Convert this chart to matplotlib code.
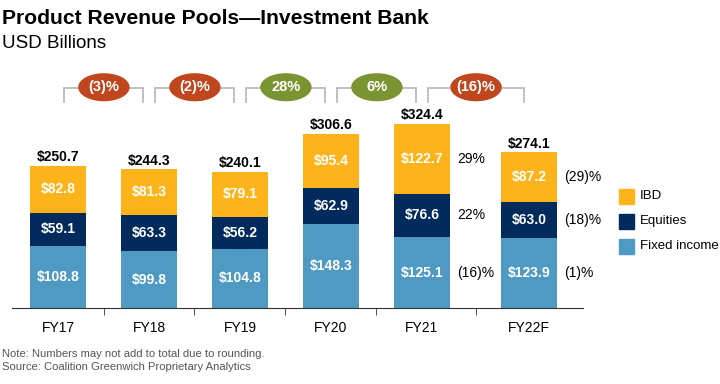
import matplotlib
matplotlib.use("Agg")
import matplotlib.pyplot as plt
from matplotlib.patches import Ellipse, Rectangle

plt.rcParams['font.family'] = ['Liberation Sans', 'DejaVu Sans']

years = ["FY17", "FY18", "FY19", "FY20", "FY21", "FY22F"]
fixed_income = [108.8, 99.8, 104.8, 148.3, 125.1, 123.9]
equities = [59.1, 63.3, 56.2, 62.9, 76.6, 63.0]
ibd = [82.8, 81.3, 79.1, 95.4, 122.7, 87.2]
totals = [250.7, 244.3, 240.1, 306.6, 324.4, 274.1]
yoy = ["(3)%", "(2)%", "28%", "6%", "(16)%"]
fy21_chg = ["(16)%", "22%", "29%"]     # fixed income, equities, IBD
fy22_chg = ["(1)%", "(18)%", "(29)%"]
legend_names = ["IBD", "Equities", "Fixed income"]

c_fi = "#4F9AC2"
c_eq = "#002B5C"
c_ibd = "#FDB31A"
c_neg = "#C0461E"
c_pos = "#7A9431"

xpos = [0, 1, 2, 3, 4, 5.18]
w = 0.615

fig = plt.figure(figsize=(7.2, 3.84), dpi=100)
ax = fig.add_axes([12 / 720, 76 / 384, 571 / 720, 248 / 384])
ax.set_xlim(-0.505, 5.77)
ax.set_ylim(0, 437)

ax.bar(xpos, fixed_income, w, color=c_fi)
ax.bar(xpos, equities, w, bottom=fixed_income, color=c_eq)
b2 = [a + b for a, b in zip(fixed_income, equities)]
ax.bar(xpos, ibd, w, bottom=b2, color=c_ibd)

for i, x in enumerate(xpos):
    segs = [(0, fixed_income[i]), (fixed_income[i], equities[i]), (b2[i], ibd[i])]
    for base, v in segs:
        ax.text(x, base + v / 2, f"${v:.1f}", ha="center", va="center",
                color="white", fontsize=10, fontweight="bold")
    ax.text(x, totals[i] + 3, f"${totals[i]:.1f}", ha="center", va="bottom",
            color="black", fontsize=10, fontweight="bold")

for i, chg in ((4, fy21_chg), (5, fy22_chg)):
    segs = [(0, fixed_income[i]), (fixed_income[i], equities[i]), (b2[i], ibd[i])]
    for (base, v), s in zip(segs, chg):
        ax.text(xpos[i] + w / 2 + 0.08, base + v / 2, s, ha="left", va="center",
                fontsize=10, color="black")

# brackets with yoy pills
for i, s in enumerate(yoy):
    x0 = xpos[i] + 0.07
    x1 = xpos[i + 1] - 0.06
    ax.plot([x0, x0, x1, x1], [363, 388, 388, 363], color="#BBBBBB", lw=1.3,
            clip_on=False, solid_joinstyle="miter")
    col = c_neg if s.startswith("(") else c_pos
    xm = (x0 + x1) / 2
    ax.add_patch(Ellipse((xm, 389), 0.55, 47, color=col, clip_on=False, zorder=3))
    ax.text(xm, 389, s, ha="center", va="center", color="white",
            fontsize=10.5, fontweight="bold", zorder=4)

for sp in ["top", "right", "left"]:
    ax.spines[sp].set_visible(False)
ax.spines["bottom"].set_color("#333333")
ax.set_yticks([])
ax.set_xticks(xpos)
ax.set_xticklabels(years, fontsize=10)
ax.tick_params(axis="x", which="major", length=0, pad=9)
ax.set_xticks([0.505, 1.49, 2.49, 3.49, 4.59], minor=True)
ax.tick_params(axis="x", which="minor", length=5, color="#333333")

# legend drawn by hand
for k, (name, col) in enumerate(zip(legend_names, [c_ibd, c_eq, c_fi])):
    yc = 196 + 25 * k
    fig.patches.append(Rectangle((619 / 720, 1 - (yc + 7.5) / 384), 15 / 720, 15 / 384,
                                 color=col, transform=fig.transFigure))
    fig.text(640 / 720, 1 - yc / 384, name, fontsize=9.5, va="center", ha="left")

fig.text(2 / 720, 1 - 18 / 384, "Product Revenue Pools\u2014Investment Bank",
         fontsize=15.2, fontweight="bold", va="center", ha="left")
fig.text(2 / 720, 1 - 44 / 384, "USD Billions", fontsize=13.5, va="center", ha="left")
fig.text(2 / 720, 1 - 354 / 384, "Note: Numbers may not add to total due to rounding.",
         fontsize=8.1, color="#555555", va="center")
fig.text(2 / 720, 1 - 367 / 384, "Source: Coalition Greenwich Proprietary Analytics",
         fontsize=8.1, color="#555555", va="center")

fig.savefig("out.png", dpi=100)
